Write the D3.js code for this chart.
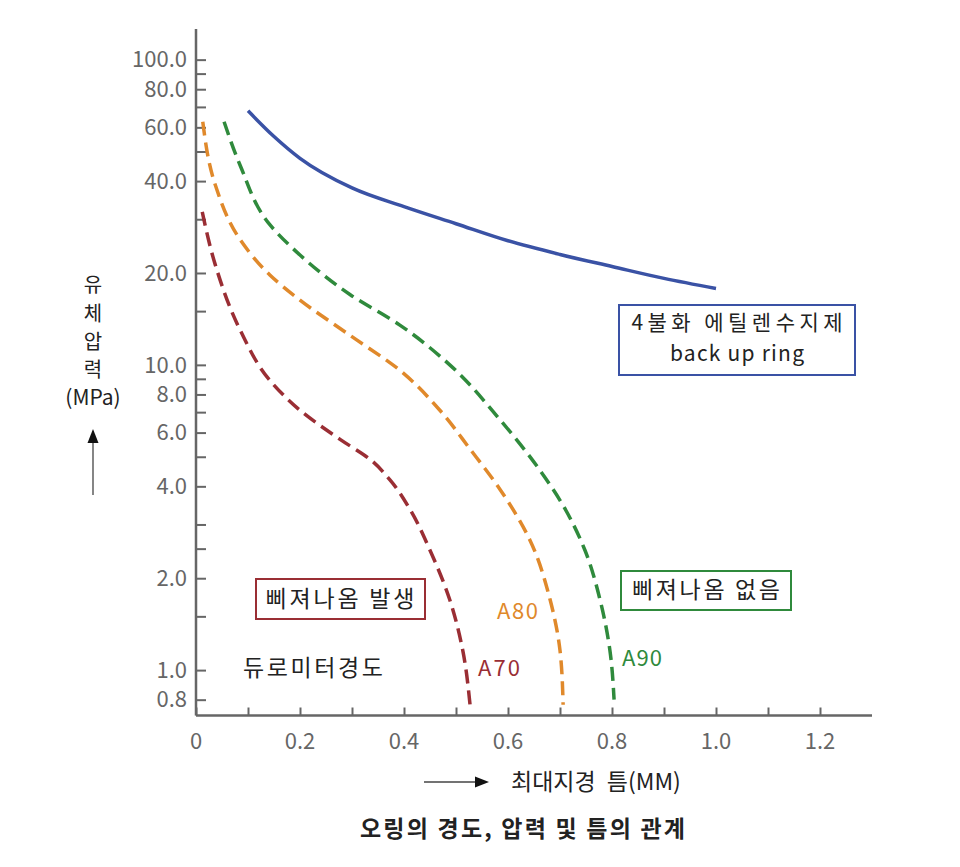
<!DOCTYPE html>
<html><head><meta charset="utf-8">
<script src="https://cdn.jsdelivr.net/npm/d3@7"></script>
<style>body{margin:0;background:#fff}</style>
</head><body>
<svg id="c" width="960" height="867"></svg>
<script>
const blueX = [0.1,0.15,0.2,0.3,0.4,0.5,0.6,0.7,0.8,0.9,1.0];
const blueY = [68,56,47.5,38,33,29,25.5,23,21,19.2,17.8];
const a80X = [0.013,0.037,0.085,0.142,0.2,0.296,0.392,0.469,0.527,0.585,0.642,0.681,0.7,0.706];
const a80Y = [62.6,38.9,25.7,19.7,16.3,12.5,9.6,7.1,5.3,3.9,2.67,1.7,1.16,0.77];
const a90X = [0.054,0.085,0.142,0.2,0.296,0.392,0.488,0.585,0.662,0.7,0.748,0.777,0.796,0.804];
const a90Y = [62.6,45,28.8,22.9,17,13.5,10,6.6,4.5,3.6,2.47,1.7,1.16,0.8];
const a70X = [0.012,0.037,0.085,0.142,0.2,0.277,0.335,0.373,0.412,0.45,0.488,0.513,0.527];
const a70Y = [31.7,21.3,13,8.9,7.1,5.7,4.9,4.2,3.35,2.47,1.7,1.16,0.77];
const xTicks = [0,0.1,0.2,0.3,0.4,0.5,0.6,0.7,0.8,0.9,1.0,1.1,1.2];
const xLabels = [0,0.2,0.4,0.6,0.8,1.0,1.2];
const yTicks = [0.8,1,1.5,2,2.5,3,4,5,6,7,8,9,10,15,20,30,40,50,60,70,80,90,100];
const yLabels = [0.8,1,2,4,6,8,10,20,40,60,80,100];

const svg = d3.select("#c");
const x = d3.scaleLinear().domain([0,1.3]).range([196,872]);
const y = d3.scaleLog().domain([0.71,126]).range([715.5,29]);
const font = "'Noto Sans CJK KR','Noto Sans',sans-serif";
const axisCol = "#666";

// x axis
const xa = svg.append("g").attr("transform","translate(0,715.5)")
  .call(d3.axisTop(x).tickValues(xTicks).tickSize(8).tickFormat(""));
xa.selectAll("line").attr("stroke",axisCol).attr("stroke-width",2);
xa.select(".domain").attr("stroke",axisCol).attr("stroke-width",2.5).attr("d","M196,0H872");
svg.append("g").selectAll("text").data(xLabels).join("text")
  .attr("x",d=>x(d)).attr("y",741).attr("dy","0.35em").attr("text-anchor","middle")
  .attr("font-family",font).attr("font-size",22).attr("fill",axisCol)
  .text(d=>d===0?"0":d.toFixed(1));

// y axis
const ya = svg.append("g").attr("transform","translate(196,0)")
  .call(d3.axisRight(y).tickValues(yTicks).tickSize(10).tickFormat(""));
ya.selectAll("line").attr("stroke",axisCol).attr("stroke-width",2);
ya.select(".domain").attr("stroke",axisCol).attr("stroke-width",2.5).attr("d","M0,29V715.5");
svg.append("g").selectAll("text").data(yLabels).join("text")
  .attr("x",187).attr("y",d=>y(d)).attr("dy","0.35em").attr("text-anchor","end")
  .attr("font-family",font).attr("font-size",22).attr("fill",axisCol)
  .text(d=>d.toFixed(1));

// curves
const line = d3.line().x(d=>x(d[0])).y(d=>y(d[1])).curve(d3.curveMonotoneY);
const lineX = d3.line().x(d=>x(d[0])).y(d=>y(d[1])).curve(d3.curveMonotoneX);
function draw(xs,ys,col,dash,gen){
  svg.append("path").datum(xs.map((v,i)=>[v,ys[i]]))
    .attr("d",gen).attr("fill","none").attr("stroke",col).attr("stroke-width",3.5)
    .attr("stroke-dasharray",dash||null).attr("stroke-linecap","butt");
}
const blue="#3a52a5", orange="#e0892b", green="#2f8a3c", red="#9a2e34";
draw(blueX,blueY,blue,null,lineX);
draw(a80X,a80Y,orange,"14,7",line);
draw(a90X,a90Y,green,"14,7",line);
draw(a70X,a70Y,red,"14,7",line);

function txt(t,cx,cy,col,len,opts){
  opts=opts||{};
  const e=svg.append("text").attr("x",cx).attr("y",cy).attr("dy","0.35em")
    .attr("text-anchor",opts.anchor||"middle").attr("font-family",font)
    .attr("font-size",opts.size||23).attr("fill",col).text(t);
  if(opts.bold) e.attr("font-weight","bold");
  if(len) e.attr("textLength",len).attr("lengthAdjust","spacing");
  return e;
}
// boxes
function box(x0,y0,w,h,col){
  svg.append("rect").attr("x",x0).attr("y",y0).attr("width",w).attr("height",h)
    .attr("fill","#fff").attr("stroke",col).attr("stroke-width",2);
}
box(619,305,236,70,blue);
txt("4불화 에틸렌수지제",737,322.5,"#222",211,{size:21});
txt("back up ring",737,353.5,"#222",134,{size:21});
box(256,579,169,40,red);
txt("삐져나옴 발생",340,599,"#222",149);
box(621,571,170,39,green);
txt("삐져나옴 없음",706,590,"#222",148);

txt("듀로미터경도",243,668,"#222",140,{anchor:"start"});
txt("A80",497,611,orange,41,{anchor:"start",size:22});
txt("A70",478,668,red,42,{anchor:"start",size:22});
txt("A90",622,658,green,40,{anchor:"start",size:22});

// y axis title (one text, stacked)
const yt = svg.append("text").attr("text-anchor","middle").attr("font-family",font)
  .attr("font-size",20).attr("fill","#222");
["유","체","압","력","(MPa)"].forEach((t,i)=>yt.append("tspan").attr("x",93)
  .attr("y",[285,314,342,370,398][i]).attr("dy","0.35em").attr("font-size",i===4?21:20).text(t));
svg.append("line").attr("x1",93).attr("x2",93).attr("y1",495).attr("y2",442).attr("stroke","#444").attr("stroke-width",1.3);
svg.append("path").attr("d","M93,429L87.5,443H98.5Z").attr("fill","#111");

// x axis title
svg.append("line").attr("x1",424).attr("x2",476).attr("y1",782).attr("y2",782).attr("stroke","#444").attr("stroke-width",1.3);
svg.append("path").attr("d","M489,782L475,776.5V787.5Z").attr("fill","#111");
txt("최대지경 틈(MM)",511,782,"#222",null,{anchor:"start",size:23}).attr("word-spacing",6);

// title
txt("오링의 경도, 압력 및 틈의 관계",360,829,"#222",325,{anchor:"start",bold:true,size:23});
</script>
</body></html>
